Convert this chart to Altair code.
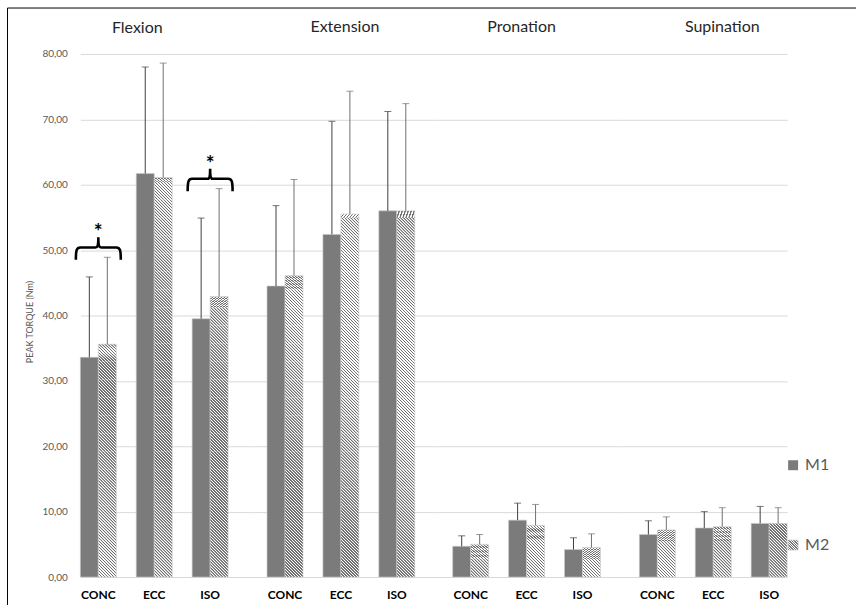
import altair as alt
import pandas as pd

# ---- data -------------------------------------------------------------
groups = ["Flexion", "Extension", "Pronation", "Supination"]
tests = ["CONC", "ECC", "ISO"]
series = ["M1", "M2"]

# mean peak torque (Nm), three tests per movement, in group order
m1_mean = [33.6, 61.7, 39.5, 44.5, 52.4, 56.0, 4.7, 8.7, 4.2, 6.5, 7.5, 8.2]
m2_mean = [35.6, 61.1, 42.9, 46.1, 55.5, 56.0, 5.0, 7.9, 4.5, 7.2, 7.7, 8.2]
# standard deviations, drawn as upper error bars
m1_sd = [12.3, 16.3, 15.4, 12.3, 17.3, 15.2, 1.6, 2.6, 1.8, 2.1, 2.5, 2.6]
m2_sd = [13.3, 17.5, 16.5, 14.7, 18.8, 16.4, 1.5, 3.2, 2.1, 2.0, 2.9, 2.4]

# significant M1 / M2 differences
sig_group = ["Flexion", "Flexion"]
sig_test = ["CONC", "ISO"]

# ---- layout -----------------------------------------------------------
Y_MAX = 80
PLOT_H = 524
STEP = 56
PAD_INNER = 20 / 56
PANEL_W = [168, 186, 186, 168]
ALIGN = [0, 0.5, 0.5, 1]
TITLE_DX = [-27, 4, -5, 19]
# the first panel's y labels already reach above the plot, so its title sits closer
TITLE_OFFSET = [0, 6, 6, 6]
BAR_PX = STEP * (1 - PAD_INNER) / 2
TILE = BAR_PX * Y_MAX / PLOT_H  # square hatch tiles keep the stripes at 45 degrees

FONT = "Lato"
GRID = "#d9d9d9"
TXT = "#595959"
M1_FILL = "#7b7b7b"
HATCH_DARK = "#707070"

rows = []
for gi, g in enumerate(groups):
    for ti, t in enumerate(tests):
        k = gi * 3 + ti
        rows.append(dict(group=g, test=t, series="M1", mean=m1_mean[k], upper=m1_mean[k] + m1_sd[k]))
        rows.append(dict(group=g, test=t, series="M2", mean=m2_mean[k], upper=m2_mean[k] + m2_sd[k]))
df = pd.DataFrame(rows)

# stack of square tiles filling each M2 bar (carries the diagonal hatch)
tile_rows = []
for r in df[df.series == "M2"].itertuples():
    lo = 0.0
    while lo < r.mean - 1e-9:
        hi = min(lo + TILE, r.mean)
        tile_rows.append(dict(group=r.group, test=r.test, series="M2", lo=lo, hi=hi))
        lo = hi
tiles = pd.DataFrame(tile_rows)

sig_rows = []
for g, t in zip(sig_group, sig_test):
    top = df[(df.group == g) & (df.test == t)].upper.max()
    sig_rows.append(dict(group=g, test=t, brace=top + 1.5, star=top + 4.4))
sig = pd.DataFrame(sig_rows)


def hatch(n):
    stops = []
    for k in range(n):
        a = k / n
        stops += [
            {"offset": a, "color": HATCH_DARK},
            {"offset": a + 0.4 / n, "color": HATCH_DARK},
            {"offset": a + 0.5 / n, "color": "#ffffff"},
            {"offset": a + 0.9 / n, "color": "#ffffff"},
        ]
    stops.append({"offset": 1, "color": HATCH_DARK})
    return {"gradient": "linear", "x1": 0, "y1": 1, "x2": 1, "y2": 0, "stops": stops}


BRACE = ("M -1 0.55 C -1 0.12 -0.97 0 -0.8 0 L -0.13 0 C -0.03 0 0 -0.06 0 -0.45 "
         "C 0 -0.06 0.03 0 0.13 0 L 0.8 0 C 0.97 0 1 0.12 1 0.55")

label_expr = "replace(format(datum.value, '.2f'), '.', ',')"


def panel(i):
    g = groups[i]
    po = (PANEL_W[i] / STEP - (3 - PAD_INNER)) / 2
    x_axis = alt.Axis(title=None, labelAngle=0, labelFont=FONT, labelFontWeight="bold",
                      labelFontSize=12, labelColor="black", ticks=False, domain=False,
                      labelPadding=13, grid=False)
    if i == 0:
        y_axis = alt.Axis(title="PEAK TORQUE (Nm)", titleFont=FONT, titleFontSize=9,
                          titleFontWeight="normal", titleColor=TXT, titlePadding=7, titleY=268,
                          labelFont=FONT, labelFontSize=10, labelColor=TXT, labelPadding=13,
                          values=list(range(0, Y_MAX + 1, 10)), labelExpr=label_expr,
                          ticks=False, domain=False, grid=True, gridColor=GRID)
    else:
        y_axis = alt.Axis(title=None, labels=False, ticks=False, domain=False,
                          values=list(range(0, Y_MAX + 1, 10)), grid=True, gridColor=GRID)
    xs = alt.Scale(domain=tests, paddingInner=PAD_INNER, paddingOuter=po, align=ALIGN[i])
    ys = alt.Scale(domain=[0, Y_MAX], nice=False)
    xo = alt.XOffset("series:N", scale=alt.Scale(domain=series, paddingInner=0, paddingOuter=0))
    X = alt.X("test:N", scale=xs, axis=x_axis, sort=tests)

    d = df[df.group == g]
    t = tiles[tiles.group == g]

    m1 = alt.Chart(d[d.series == "M1"]).mark_bar(
        fill=M1_FILL, stroke="#c8c8c8", strokeWidth=0.6
    ).encode(x=X, xOffset=xo, y=alt.Y("mean:Q", scale=ys, axis=y_axis))

    m2_tiles = alt.Chart(t).mark_bar(fill=hatch(12), strokeWidth=0).encode(
        x=X, xOffset=xo, y=alt.Y("lo:Q", scale=ys, axis=y_axis), y2="hi:Q")

    m2_edge = alt.Chart(d[d.series == "M2"]).mark_bar(
        fill="transparent", stroke="#c8c8c8", strokeWidth=0.6
    ).encode(x=X, xOffset=xo, y=alt.Y("mean:Q", scale=ys, axis=y_axis))

    err_color = alt.Color("series:N", scale=alt.Scale(domain=series, range=["#3f3f3f", "#707070"]),
                          legend=None)
    err = alt.Chart(d).mark_rule(strokeWidth=1).encode(
        x=X, xOffset=xo, y=alt.Y("mean:Q", scale=ys, axis=y_axis), y2="upper:Q", color=err_color)
    cap = alt.Chart(d).mark_tick(orient="horizontal", size=7, thickness=1).encode(
        x=X, xOffset=xo, y=alt.Y("upper:Q", scale=ys, axis=y_axis), color=err_color)

    layers = [m1, m2_tiles, m2_edge, err, cap]

    s = sig[sig.group == g]
    if len(s):
        brace = alt.Chart(s).mark_point(
            shape=BRACE, size=45 * 45, filled=False, stroke="black", strokeWidth=2.6, opacity=1
        ).encode(x=X, y=alt.Y("brace:Q", scale=ys, axis=y_axis))
        star = alt.Chart(s).mark_text(
            text="*", font=FONT, fontSize=21, fontWeight="bold", color="black", baseline="middle", dy=5
        ).encode(x=X, y=alt.Y("star:Q", scale=ys, axis=y_axis))
        layers += [brace, star]

    return alt.layer(*layers).properties(
        width=PANEL_W[i], height=PLOT_H,
        title=alt.TitleParams(text=g, font=FONT, fontSize=16, fontWeight="normal", color="#262626",
                              anchor="middle", frame="group", dx=TITLE_DX[i], offset=TITLE_OFFSET[i],
                              baseline="alphabetic"),
    )


# ---- legend and outer frame -------------------------------------------
leg_df = pd.DataFrame({"series": series})
leg_y = alt.Y("series:N", scale=alt.Scale(type="point", domain=series, range=[412, 492], padding=0), axis=None)
leg_m1 = alt.Chart(leg_df[leg_df.series == "M1"]).mark_square(size=100, fill=M1_FILL, opacity=1).encode(
    x=alt.value(6), y=leg_y)
leg_m2 = alt.Chart(leg_df[leg_df.series == "M2"]).mark_square(
    size=100, fill=hatch(8), stroke="#c8c8c8", strokeWidth=0.6, opacity=1
).encode(x=alt.value(6), y=leg_y)
leg_txt = alt.Chart(leg_df).mark_text(align="left", baseline="middle", font=FONT, fontSize=16, color=TXT).encode(
    x=alt.value(18), y=leg_y, text="series:N")
frame_df = pd.DataFrame({"k": [0]})
frame_left = alt.Chart(frame_df).mark_rule(color="black", strokeWidth=1).encode(
    x=alt.value(-781), y=alt.value(-46), y2=alt.value(552))
frame_top = alt.Chart(frame_df).mark_rule(color="black", strokeWidth=1).encode(
    x=alt.value(-781), x2=alt.value(69), y=alt.value(-46))
legend = alt.layer(leg_m1, leg_m2, leg_txt, frame_left, frame_top).properties(width=69, height=PLOT_H)

chart = alt.hconcat(*[panel(i) for i in range(4)], legend, spacing=0, bounds="flush").properties(
    padding={"left": 6.5, "top": 6.5, "right": 0, "bottom": 0}
).configure_view(stroke=None).resolve_scale(x="independent", color="independent")

chart.save("out.html", embed_options={"renderer": "svg", "actions": False})
